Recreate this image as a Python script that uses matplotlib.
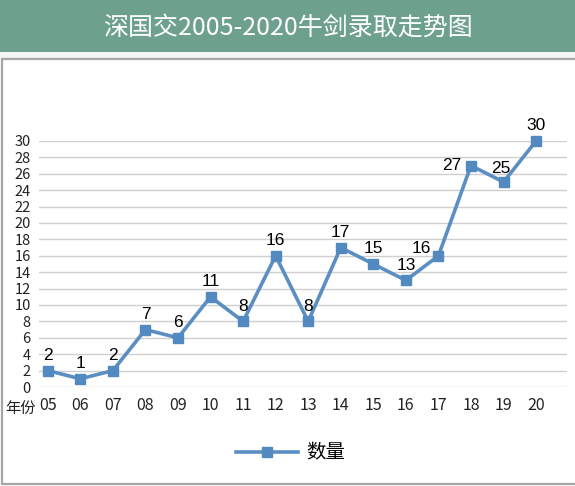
import matplotlib.pyplot as plt
from matplotlib.patches import Rectangle

plt.rcParams['font.family'] = ['Noto Sans CJK SC', 'DejaVu Sans']

years = ['05', '06', '07', '08', '09', '10', '11', '12',
         '13', '14', '15', '16', '17', '18', '19', '20']
counts = [2, 1, 2, 7, 6, 11, 8, 16, 8, 17, 15, 13, 16, 27, 25, 30]
y_ticks = list(range(0, 31, 2))

title = '深国交2005-2020牛剑录取走势图'
series_name = '数量'
line_color = '#5b8ec2'

W, H = 575, 486
fig = plt.figure(figsize=(W / 100, H / 100), dpi=100)

# green banner + frame
fig.patches.append(Rectangle((0, 1 - 52 / H), 1, 52 / H, transform=fig.transFigure,
                             facecolor='#6ea08e', edgecolor='none', zorder=-2))
fig.patches.append(Rectangle((0, 1 - 59 / H), 1, 7 / H, transform=fig.transFigure,
                             facecolor='#f3f5f4', edgecolor='none', zorder=-2))
fig.patches.append(Rectangle((2 / W, 2 / H), 1.1, 1 - 61 / H, transform=fig.transFigure,
                             facecolor='white', edgecolor='#a5a5a5', linewidth=1.6, zorder=-2))
fig.text(0.5, 1 - 28 / H, title, color='white', fontsize=18,
         ha='center', va='center')

ax = fig.add_axes([39 / W, 1 - 387 / H, 528 / W, 246 / H])
ax.set_zorder(2)
ax.set_facecolor('none')
x = list(range(len(years)))
line, = ax.plot(x, counts, color=line_color, linewidth=2.6, marker='s',
                markersize=6.5, markerfacecolor='#5289c0', markeredgecolor='#5289c0',
                clip_on=False, zorder=3, label=series_name)

# label offsets in points
offsets = {12: (-12, 5), 13: (-14, 0), 14: (-2, 9.5)}
for i, v in enumerate(counts):
    dx, dy = offsets.get(i, (0, 11))
    ax.annotate(str(v), (i, v), xytext=(dx, dy), textcoords='offset points',
                ha='center', va='center', fontsize=12.5,
                family=['Liberation Sans', 'DejaVu Sans'], color='black')

ax.set_xlim(-0.27, 15.95)
ax.set_ylim(0, 30)
ax.set_yticks(y_ticks)
ax.set_xticks(x)
ax.set_xticklabels(years)
ax.tick_params(axis='y', length=0, pad=6, labelsize=10.5, colors='#222222')
ax.tick_params(axis='x', length=0, pad=7, labelsize=11.5, colors='#222222')
ax.grid(axis='y', color='#cfcfcf', linewidth=1)
ax.set_axisbelow(True)
for s in ax.spines.values():
    s.set_visible(False)

fig.text(5 / W, 1 - 408 / H, '年份', fontsize=11, ha='left', va='center', color='#222222')

fig.legend(handles=[line], loc='center', bbox_to_anchor=(0.505, 1 - 453 / H),
           frameon=False, fontsize=14, handlelength=3.2, handletextpad=0.4)

fig.savefig('out.png', dpi=100)
